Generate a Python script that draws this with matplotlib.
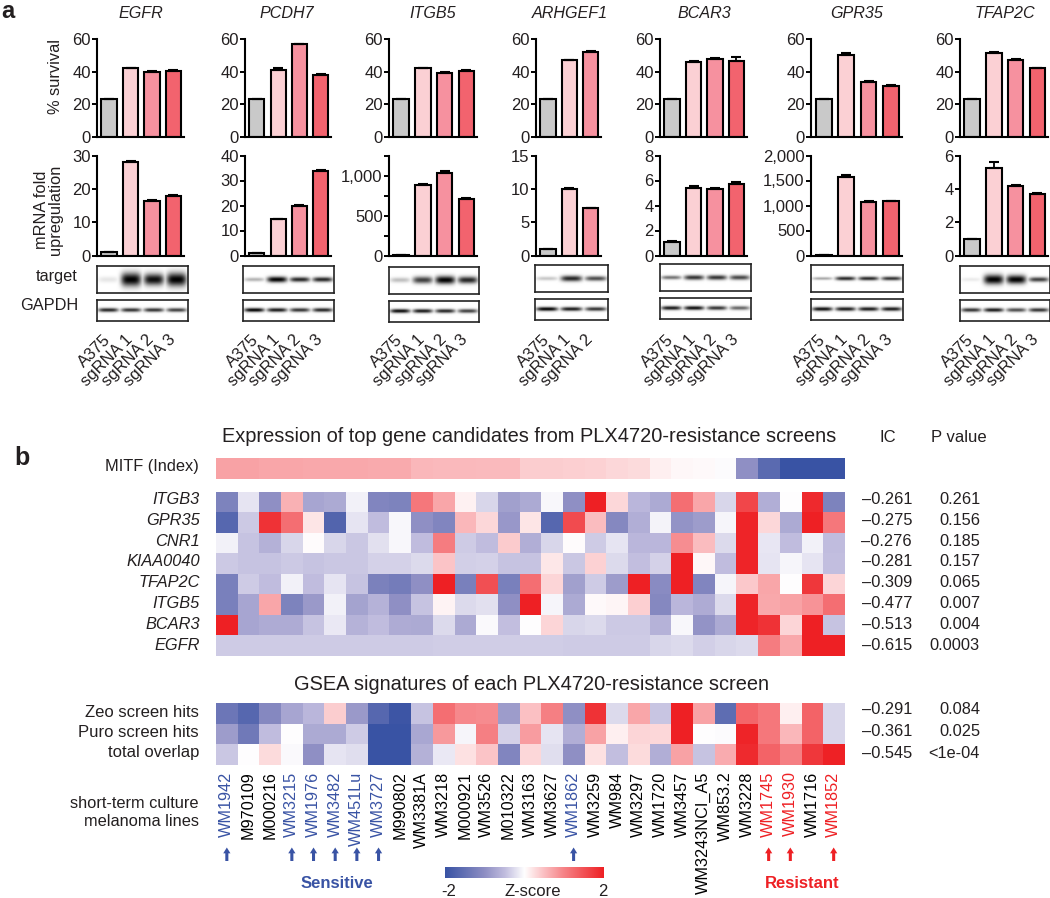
import numpy as np
import matplotlib
matplotlib.use('Agg')
import matplotlib.pyplot as plt
from matplotlib.colors import LinearSegmentedColormap

plt.rcParams['font.family'] = ['Liberation Sans', 'DejaVu Sans']

W, H = 1050, 898

genes = ['EGFR', 'PCDH7', 'ITGB5', 'ARHGEF1', 'BCAR3', 'GPR35', 'TFAP2C']
lanes = ['A375', 'sgRNA 1', 'sgRNA 2', 'sgRNA 3']

survival = [[23, 42, 40, 40.7], [23, 41.3, 56.7, 38], [23, 42, 39.3, 40.5], [23, 47, 52.3],
            [23, 46, 47.8, 46.8], [23, 50, 33.7, 31], [23, 51.7, 47, 42]]
survival_err = [[.3, .3, .5, .4], [.4, .8, .3, .6], [.3, .3, .7, .5], [.5, .3, .3],
                [.4, .4, .3, 2.2], [.4, 1.5, .4, .8], [.4, .2, .6, .5]]
mrna = [[1, 28.1, 16.5, 18], [1, 14.7, 20, 34], [1, 885, 1040, 710], [1, 10, 7.1],
        [1.1, 5.4, 5.35, 5.75], [1, 1570, 1070, 1085], [1, 5.25, 4.17, 3.72]]
mrna_err = [[.1, .3, .1, .2], [.1, .1, .4, .4], [0, 15, 20, 10], [.05, .15, .1],
            [.1, .2, .05, .1], [0, 50, 15, 15], [.02, .35, .07, .06]]
mrna_top = [30, 40, 1260, 15, 8, 2000, 6]
mrna_ticks = [[0, 10, 20, 30], [0, 10, 20, 30, 40], [0, 500, 1000], [0, 5, 10, 15],
              [0, 2, 4, 6, 8], [0, 500, 1000, 1500, 2000], [0, 2, 4, 6]]

target_bands = [[.10, 1, .95, 1], [.3, 1, .85, .85], [.25, .75, 1, .85], [.22, .85, .7],
                [.55, .8, .8, .72], [.35, .85, .85, .8], [.08, 1, 1, .75]]
target_thick = [[3, 7, 6, 7], [2, 3, 2.5, 2.5], [2.5, 3.5, 4, 3.5], [2, 3, 2.5],
                [2, 2.5, 2.5, 2.5], [1.5, 2, 2, 2], [2, 5, 4.5, 2.5]]
gapdh_bands = [[.85, .8, .8, .75], [1, .9, .8, .85], [.95, .9, .85, .75], [1, .9, .8],
               [.9, .95, .8, .6], [.95, .9, .9, .9], [.8, .9, .7, .8]]

col_left = [97, 245, 389, 536, 660, 811, 960]
col_right = [184, 331, 477, 601, 747, 902, 1048]
blot_right = [188, 334, 479, 608, 751, 903, 1050]
blot_left = [97, 243, 389, 535, 660, 811, 960]
blot_top = [266, 266, 267, 265, 264, 265, 266]
title_x = [141, 287, 433, 570, 704, 857, 1005]

bar_colors = ['#C9C9C9', '#FBD0D4', '#F6919F', '#F2636E']

lines = ['WM1942', 'M970109', 'M000216', 'WM3215', 'WM1976', 'WM3482', 'WM451Lu', 'WM3727',
         'M990802', 'WM3381A', 'WM3218', 'M000921', 'WM3526', 'M010322', 'WM3163', 'WM3627',
         'WM1862', 'WM3259', 'WM984', 'WM3297', 'WM1720', 'WM3457', 'WM3243NCI_A5', 'WM853.2',
         'WM3228', 'WM1745', 'WM1930', 'WM1716', 'WM1852']
sensitive = ['WM1942', 'WM3215', 'WM1976', 'WM3482', 'WM451Lu', 'WM3727', 'WM1862']
resistant = ['WM1745', 'WM1930', 'WM1852']

mitf = [.72, .72, .7, .7, .68, .68, .68, .66, .66, .55, .54, .54, .52, .52, .38, .38, .37, .35,
        .3, .28, .12, .05, .04, -.03, -1.0, -1.6, -2, -2, -2]

gene_rows = ['ITGB3', 'GPR35', 'CNR1', 'KIAA0040', 'TFAP2C', 'ITGB5', 'BCAR3', 'EGFR']
itgb3 = [-1.2, -.2, -1, .6, -.75, -.7, -.1, -1.15, -1.2, 1.1, .7, .1, -.3, -.8, -.7, -.05, -1, 2,
         .3, -.55, -.7, 1.2, .7, -.3, 1.6, -.65, 0, 1.9, -1.2]
gpr35 = [-1.65, -.4, 1.8, 1.2, .2, -1.7, -.2, -.5, -.05, -1, -1.15, .55, .3, -.9, .2, -1.65, 1.55,
         .5, -1.1, -.65, -.08, -.95, -.85, -.07, 1.95, .3, -.7, 2, 1.1]
cnr1 = [-.1, -.45, -.62, -.3, .03, -.3, -.42, -.22, -.05, -.5, 1.05, -.38, -.5, .4, -.65, -.3, .02,
        -.38, -.2, -.55, -.55, .9, .5, -.28, 1.95, -.18, -.5, -.1, -.5]
kiaa0040 = [-.4, -.45, -.45, -.4, -.45, -.42, -.42, -.33, -.33, -.28, .45, -.35, -.33, -.45, -.45,
            .18, -.42, .35, -.28, -.48, -.33, 2, .05, -.5, 1.95, -.2, -.07, -.2, -.48]
tfap2c = [-1.25, -.38, -.5, -.1, -.5, -.2, -.45, -1.22, -1.3, -1, 2, -1.25, 1.5, -1.25, 1.2, .32,
          -.8, -.38, -.85, 2, -1.05, 2, -1.15, -.07, .42, .7, 0, 1.75, .32]
itgb5 = [-1.25, -.75, .7, -1.2, -.88, -.1, -.78, -.6, -1, -.45, .08, -.27, -.23, -1, 2, -.07, -.7,
         .04, .07, .37, -1.1, -.55, -.68, -.28, 1.95, .68, .72, .85, 1.2]
bcar3 = [2, -.75, -.68, -.68, -.45, -.17, -.6, -.5, -.68, -.7, -.27, -.7, -.04, -.48, 0, .32, -.3,
         -.28, -.4, -.4, -.6, -.05, -.95, -.7, 1.95, 1.8, .32, 2, -.45]
egfr = [-.38, -.38, -.38, -.38, -.38, -.38, -.38, -.38, -.38, -.38, -.37, -.36, -.37, -.36, -.37,
        -.36, -.38, -.38, -.38, -.38, -.3, -.28, -.35, -.3, -.27, 1.05, .68, 2, 2]
gene_ic = ['–0.261', '–0.275', '–0.276', '–0.281', '–0.309', '–0.477', '–0.513', '–0.615']
gene_p = ['0.261', '0.156', '0.185', '0.157', '0.065', '0.007', '0.004', '0.0003']

gsea_rows = ['Zeo screen hits', 'Puro screen hits', 'total overlap']
zeo = [-1.4, -1.65, -1.1, -.75, -.55, .38, -.88, -1.65, -1.95, -.45, 1.2, .95, .92, -.85, .47, 1.02,
       -1, 1.8, -.27, .7, -.43, 2, .73, -1.55, 1.28, 1.1, .12, 1.3, -.3]
puro = [-.85, -1.35, -.5, 0, -.7, -.7, -.38, -2, -2, -.72, .8, -.07, 1.03, -.33, .77, -.2, -.65, .73,
        .12, .32, .3, 2, 0, -.03, 1.95, 1.1, .55, 1.3, -.3]
overlap = [-.42, 0, .27, -.04, -1, -.2, -.25, -2, -2, -.62, -.17, .22, .45, -1.15, .3, -.25, -1, .22,
           -.48, .28, -.65, .73, -.45, .65, 1.88, 1.3, 1.03, 1.75, 1.98]
gsea_ic = ['–0.291', '–0.361', '–0.545']
gsea_p = ['0.084', '0.025', '<1e-04']

BLUE = '#3953A4'
RED = '#EE2024'
TXT = '#231F20'
zcmap = LinearSegmentedColormap.from_list('z', [(0, BLUE), (.25, '#8F8FC4'), (.375, '#C0BCDE'), (.5, '#FFFFFF'),
                                                (.625, '#FBBEC1'), (.75, '#F68286'), (1, RED)])


def px_axes(fig, left, top, right, bottom):
    return fig.add_axes([left / W, 1 - bottom / H, (right - left) / W, (bottom - top) / H])


def draw_bars(ax, vals, errs, top, ticks):
    x = np.arange(len(vals))
    ax.bar(x, vals, width=.71, color=bar_colors[:len(vals)], edgecolor='black', linewidth=1.5)
    ax.errorbar(x, vals, yerr=[np.zeros(len(errs)), errs], fmt='none', ecolor='black',
                elinewidth=1.3, capsize=3.5, capthick=1.5, clip_on=False)
    ax.set_xlim(-.56, len(vals) - .51)
    ax.set_ylim(0, top)
    ax.set_xticks([])
    ax.set_yticks(ticks)
    ax.set_yticklabels([f'{t:,}' for t in ticks], fontsize=12, color=TXT)
    ax.tick_params(axis='y', length=3.5, width=1.4, pad=1)
    for s in ['top', 'right']:
        ax.spines[s].set_visible(False)
    for s in ['left', 'bottom']:
        ax.spines[s].set_linewidth(1.5)


def draw_blot(ax, strengths, thick, rows=28):
    ny, nx = 80, 240
    yy, xx = np.mgrid[0:ny, 0:nx]
    yy = (yy + .5) / ny * rows
    xx = (xx + .5) / nx
    img = np.zeros((ny, nx))
    n = len(strengths)
    for i, s in enumerate(strengths):
        xc = (i + .5) / n
        sx = .44 / n
        band = s * np.exp(-((xx - xc) / sx) ** 4) * np.exp(-((yy - rows * .5) / thick[i]) ** 2)
        img = np.maximum(img, band)
    ax.imshow(1 - img, cmap='gray', vmin=0, vmax=1, aspect='auto', interpolation='bilinear')
    ax.set_xticks([])
    ax.set_yticks([])
    for s in ax.spines.values():
        s.set_linewidth(1.2)
        s.set_color('#222222')


def draw_heat(ax, rows):
    ax.imshow(np.array(rows), cmap=zcmap, vmin=-2, vmax=2, aspect='auto', interpolation='nearest')
    ax.axis('off')


fig = plt.figure(figsize=(W / 100, H / 100), dpi=100)

# panel a
for g, gene in enumerate(genes):
    ax = px_axes(fig, col_left[g], 39, col_right[g], 137)
    draw_bars(ax, survival[g], survival_err[g], 60, [0, 20, 40, 60])
    ax = px_axes(fig, col_left[g], 155.5, col_right[g], 255.5)
    draw_bars(ax, mrna[g], mrna_err[g], mrna_top[g], mrna_ticks[g])
    if gene == 'ITGB5':
        ax.set_yticks([250, 750, 1250], minor=True)
        ax.tick_params(axis='y', which='minor', length=3.5, width=1.4)
    top = blot_top[g]
    ax = px_axes(fig, blot_left[g], top, blot_right[g], top + 27)
    draw_blot(ax, target_bands[g], target_thick[g])
    ax = px_axes(fig, blot_left[g], top + 33.5, blot_right[g], top + 55)
    draw_blot(ax, gapdh_bands[g], [2] * len(gapdh_bands[g]), rows=22)

# panel b
hx0, hx1 = 216, 844.5
ax = px_axes(fig, hx0, 458.5, hx1, 479.5)
draw_heat(ax, [mitf])
ax = px_axes(fig, hx0, 492, hx1, 656)
draw_heat(ax, [itgb3, gpr35, cnr1, kiaa0040, tfap2c, itgb5, bcar3, egfr])
ax = px_axes(fig, hx0, 703, hx1, 765)
draw_heat(ax, [zeo, puro, overlap])
ax = px_axes(fig, 445, 867, 604, 878)
ax.imshow(np.linspace(-2, 2, 256)[None, :], cmap=zcmap, vmin=-2, vmax=2, aspect='auto')
ax.axis('off')

# all text lives on a full-figure layer in pixel coordinates
ov = fig.add_axes([0, 0, 1, 1], facecolor='none')
ov.set_xlim(0, W)
ov.set_ylim(H, 0)
ov.axis('off')

ov.text(1, 18, 'a', fontsize=17, fontweight='bold', color=TXT, va='baseline')
ov.text(14, 465, 'b', fontsize=18, fontweight='bold', color=TXT, va='baseline')

for g, gene in enumerate(genes):
    ov.text(title_x[g], 13, gene, fontsize=11.6, style='italic', color=TXT, ha='center', va='center')
    n = len(survival[g])
    pitch = (col_right[g] - col_left[g]) / (n + .05)
    for i in range(n):
        xc = col_left[g] + pitch * (i + .56)
        ov.text(xc - 6, 332, lanes[i], fontsize=12, color=TXT, rotation=45,
                ha='right', va='top', rotation_mode='anchor')

ov.text(56, 76, '% survival', fontsize=11.8, color=TXT, rotation=90, ha='center', va='center')
ov.text(48.5, 210, 'mRNA fold\nupregulation', fontsize=11.8, color=TXT, rotation=90, ha='center', va='center',
        linespacing=1.0, multialignment='center')
ov.text(78, 277, 'target', fontsize=11.8, color=TXT, ha='right', va='center')
ov.text(78, 306, 'GAPDH', fontsize=11.8, color=TXT, ha='right', va='center')

ov.text(529, 436, 'Expression of top gene candidates from PLX4720-resistance screens', fontsize=14.4,
        color=TXT, ha='center', va='center')
ov.text(531, 685, 'GSEA signatures of each PLX4720-resistance screen', fontsize=14.4,
        color=TXT, ha='center', va='center')
ov.text(888, 437, 'IC', fontsize=12, color=TXT, ha='center', va='center')
ov.text(959, 437, 'P value', fontsize=12, color=TXT, ha='center', va='center')
ov.text(199, 467, 'MITF (Index)', fontsize=11.8, color=TXT, ha='right', va='center')

for i, name in enumerate(gene_rows):
    y = 499.3 + 20.85 * i
    ov.text(200, y, name, fontsize=11.8, style='italic', color=TXT, ha='right', va='center')
    ov.text(912, y, gene_ic[i], fontsize=11.8, color=TXT, ha='right', va='center')
    ov.text(980, y, gene_p[i], fontsize=11.8, color=TXT, ha='right', va='center')

for i, name in enumerate(gsea_rows):
    ov.text(199, 712.7 + 20 * i, name, fontsize=12, color=TXT, ha='right', va='center')
    y = 710 + 21.5 * i
    ov.text(912, y, gsea_ic[i], fontsize=11.8, color=TXT, ha='right', va='center')
    ov.text(980, y, gsea_p[i], fontsize=11.8, color=TXT, ha='right', va='center')

ov.text(199, 803, 'short-term culture', fontsize=11.8, color=TXT, ha='right', va='center')
ov.text(199, 822, 'melanoma lines', fontsize=11.8, color=TXT, ha='right', va='center')

col_w = (hx1 - hx0) / len(lines)
for i, name in enumerate(lines):
    x = hx0 + col_w * (i + .5)
    c = BLUE if name in sensitive else RED if name in resistant else 'black'
    ov.text(x, 771.5, name, fontsize=11.7, color=c, rotation=90, ha='center', va='top')
    if c != 'black':
        ov.annotate('', xy=(x, 847.5), xytext=(x, 861),
                    arrowprops=dict(width=2.2, headwidth=5.2, headlength=4.2, color=c, shrink=0, lw=0))

ov.text(337, 883, 'Sensitive', fontsize=12, fontweight='bold', color=BLUE, ha='center', va='center')
ov.text(802, 883, 'Resistant', fontsize=12, fontweight='bold', color=RED, ha='center', va='center')
ov.text(449, 891, '-2', fontsize=12, color=TXT, ha='center', va='center')
ov.text(533, 891, 'Z-score', fontsize=12, color=TXT, ha='center', va='center')
ov.text(603, 891, '2', fontsize=12, color=TXT, ha='center', va='center')

fig.savefig('out.png', dpi=100)
